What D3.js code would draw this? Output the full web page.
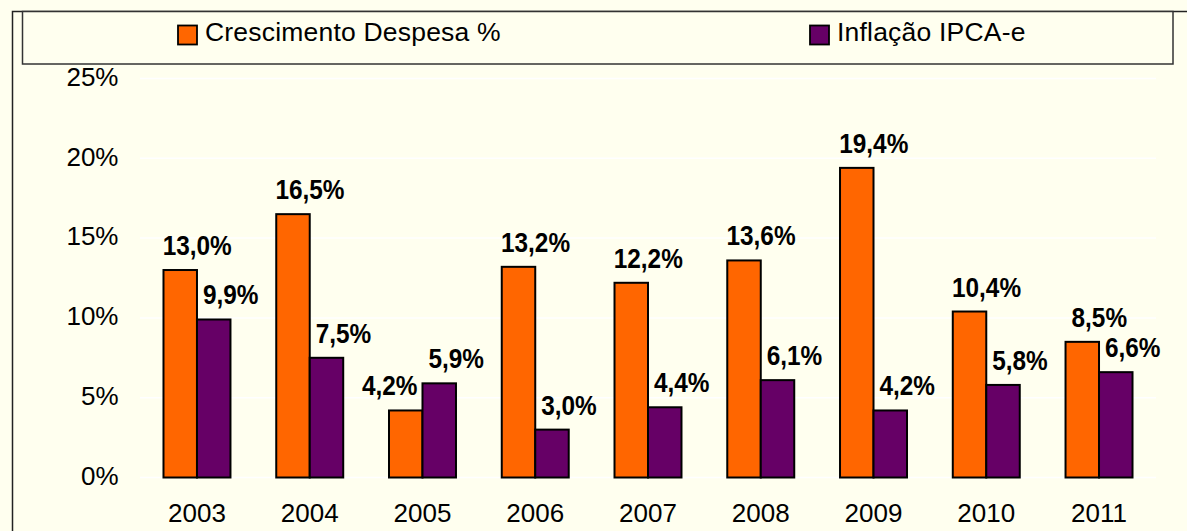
<!DOCTYPE html>
<html lang="pt">
<head>
  <meta charset="utf-8" />
  <title>Crescimento Despesa x Inflação IPCA-e</title>
  <script src="https://d3js.org/d3.v7.min.js"></script>
  <style>
    html, body { margin: 0; padding: 0; background: #FFFFEF; }
    svg { display: block; font-family: "Liberation Sans", Arial, sans-serif; }
  </style>
</head>
<body>
  <svg id="chart" width="1187" height="531"></svg>
  <script>
    // data
    const years = ["2003", "2004", "2005", "2006", "2007", "2008", "2009", "2010", "2011"];
    const despesa = [13.0, 16.5, 4.2, 13.2, 12.2, 13.6, 19.4, 10.4, 8.5];
    const ipca = [9.9, 7.5, 5.9, 3.0, 4.4, 6.1, 4.2, 5.8, 6.6];
    const seriesNames = ["Crescimento Despesa %", "Inflação IPCA-e"];
    const yTicks = [0, 5, 10, 15, 20, 25];

    const colors = ["#FF6600", "#660066"];
    const series = [despesa, ipca];

    const svg = d3.select("#chart");
    const W = 1187, H = 531;

    svg.append("rect").attr("width", W).attr("height", H).attr("fill", "#FFFFEF");

    // outer chart border (left + top visible)
    svg.append("path")
      .attr("d", `M12.5,${H} L12.5,11.5 L${W},11.5`)
      .attr("fill", "none").attr("stroke", "#222").attr("stroke-width", 1.5);

    // legend box
    svg.append("rect")
      .attr("x", 22.5).attr("y", 11.5).attr("width", 1150.5).attr("height", 52.5)
      .attr("fill", "#FFFFEF").attr("stroke", "#333").attr("stroke-width", 1.5);

    const legendX = [178, 810];
    seriesNames.forEach((name, i) => {
      svg.append("rect")
        .attr("x", legendX[i]).attr("y", 25.5).attr("width", 19).attr("height", 19)
        .attr("fill", colors[i]).attr("stroke", "#000").attr("stroke-width", 1.8);
      svg.append("text")
        .attr("x", legendX[i] + 27).attr("y", 41)
        .attr("font-size", 26.5).attr("letter-spacing", "0.2px")
        .attr("fill", "#000")
        .text(name);
    });

    // scales
    const x = d3.scaleBand().domain(years).range([140.6, 1155.4])
      .paddingInner(0.406).paddingOuter(0.203);
    const xs = d3.scaleBand().domain([0, 1]).range([0, x.bandwidth()]);
    const y = d3.scaleLinear().domain([0, 25]).range([477.5, 78.5]);

    // gridlines
    svg.append("g")
      .selectAll("line").data(yTicks).join("line")
      .attr("x1", 140).attr("x2", 1156)
      .attr("y1", d => y(d)).attr("y2", d => y(d))
      .attr("stroke", "#FFFFFF").attr("stroke-width", 1.5);

    // y axis
    const yAxis = svg.append("g")
      .attr("transform", "translate(140,-1.5)")
      .call(d3.axisLeft(y).tickValues(yTicks).tickSize(0).tickPadding(21.5).tickFormat(d => d + "%"));
    yAxis.select(".domain").remove();
    yAxis.selectAll("text").attr("font-size", 26).attr("fill", "#000")
      .attr("font-family", "Liberation Sans, Arial, sans-serif");

    // x axis
    const xAxis = svg.append("g")
      .attr("transform", "translate(0,477)")
      .call(d3.axisBottom(x).tickSize(0).tickPadding(27));
    xAxis.select(".domain").remove();
    xAxis.selectAll("text").attr("font-size", 26).attr("fill", "#000")
      .attr("font-family", "Liberation Sans, Arial, sans-serif");

    // bars
    const fmt = v => v.toFixed(1).replace(".", ",") + "%";
    series.forEach((vals, s) => {
      const g = svg.append("g");
      g.selectAll("rect").data(vals).join("rect")
        .attr("x", (d, i) => x(years[i]) + xs(s))
        .attr("y", d => y(d))
        .attr("width", xs.bandwidth())
        .attr("height", d => y(0) - y(d))
        .attr("fill", colors[s])
        .attr("stroke", "#000").attr("stroke-width", 2);

      // labels sit up-right of each bar; an orange label shorter than its
      // neighbour moves left so the two do not collide
      const dx = (d, i) => (s === 0 && despesa[i] < ipca[i]) ? -16 : 17;
      g.selectAll("text").data(vals).join("text")
        .attr("transform", (d, i) =>
          `translate(${x(years[i]) + xs(s) + xs.bandwidth() / 2 + dx(d, i)},${y(d) - 15}) scale(0.87,1)`)
        .attr("text-anchor", "middle")
        .attr("font-size", 28).attr("font-weight", "bold").attr("fill", "#000")
        .text(d => fmt(d));
    });
  </script>
</body>
</html>
